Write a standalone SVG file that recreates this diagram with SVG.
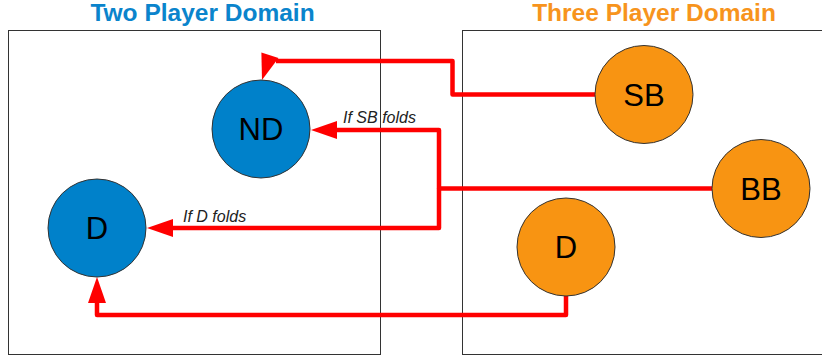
<svg xmlns="http://www.w3.org/2000/svg" xmlns:xlink="http://www.w3.org/1999/xlink" width="822" height="356" viewBox="0 0 822 356">
  <style>
    .domain { fill: none; stroke: #333333; stroke-width: 1; }
    .title { font-family: "Liberation Sans", Arial, sans-serif; font-size: 24.5px; font-weight: bold; text-anchor: middle; }
    .two { fill: #0A84CC; }
    .three { fill: #F7941D; }
    .node circle { stroke: #333333; stroke-width: 1; }
    .blue circle { fill: #0081CA; }
    .orange circle { fill: #F89412; }
    .node text { font-family: "Liberation Sans", Arial, sans-serif; font-size: 31px; fill: #000000; text-anchor: middle; }
    .edge { fill: none; stroke: #FF0000; stroke-width: 4.5; stroke-linejoin: round; }
    .head { fill: #FF0000; }
    .label { font-family: "Liberation Sans", Arial, sans-serif; font-size: 16px; font-style: italic; fill: #222222; }
  </style>
  <defs>
    <!-- arrowhead with its tip at the origin, pointing along +x -->
    <path id="arrowhead" class="head" d="M0,0 L-26,-9 L-26,9 Z"/>
  </defs>

  <rect width="822" height="356" fill="#FFFFFF"/>

  <!-- domain frames and titles -->
  <g id="two-player-domain">
    <rect class="domain" x="8.5" y="30.5" width="372" height="324"/>
    <text class="title two" x="202.5" y="21">Two Player Domain</text>
  </g>
  <g id="three-player-domain">
    <rect class="domain" x="462.5" y="30.5" width="370" height="324"/>
    <text class="title three" x="654" y="21">Three Player Domain</text>
  </g>

  <!-- connectors -->
  <g id="connectors">
    <!-- SB to ND -->
    <path class="edge" d="M595,94.5 H452.5 V61 H276"/>
    <use xlink:href="#arrowhead" transform="translate(262,80) rotate(107.8)"/>
    <!-- BB to ND / D -->
    <path class="edge" d="M712,188.5 H439 V130 H336"/>
    <path class="edge" d="M439,188.5 V228 H172"/>
    <use xlink:href="#arrowhead" transform="translate(311,130) rotate(180)"/>
    <use xlink:href="#arrowhead" transform="translate(147,228) rotate(180)"/>
    <!-- D (three player) to D (two player) -->
    <path class="edge" d="M566,296 V315 H97 V302"/>
    <use xlink:href="#arrowhead" transform="translate(97,277) rotate(-90)"/>
    <text class="label" x="343" y="122.5">If SB folds</text>
    <text class="label" x="183" y="222">If D folds</text>
  </g>

  <!-- two player nodes -->
  <g id="node-nd" class="node blue">
    <circle cx="261" cy="129" r="49"/>
    <text x="261" y="140">ND</text>
  </g>
  <g id="node-d2" class="node blue">
    <circle cx="97" cy="228" r="49"/>
    <text x="97" y="239">D</text>
  </g>

  <!-- three player nodes -->
  <g id="node-sb" class="node orange">
    <circle cx="644" cy="94.5" r="49"/>
    <text x="644" y="105.5">SB</text>
  </g>
  <g id="node-bb" class="node orange">
    <circle cx="761" cy="188.5" r="49"/>
    <text x="761" y="199.5">BB</text>
  </g>
  <g id="node-d3" class="node orange">
    <circle cx="566" cy="247" r="49"/>
    <text x="566" y="258">D</text>
  </g>
</svg>
